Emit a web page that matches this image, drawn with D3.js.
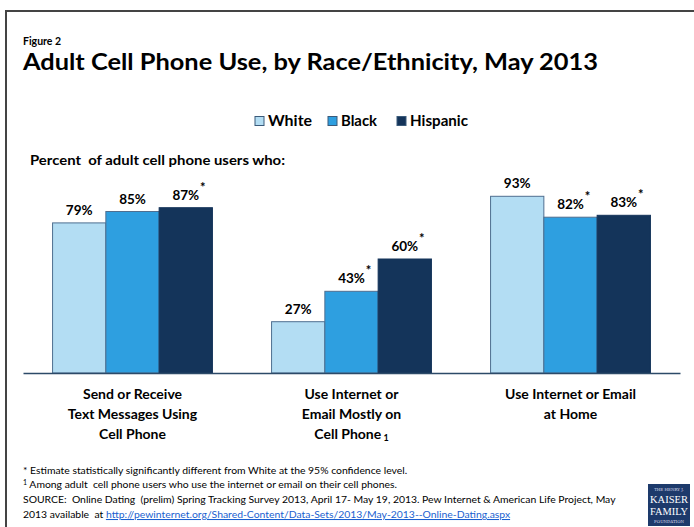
<!DOCTYPE html>
<html><head><meta charset="utf-8">
<script src="https://cdn.jsdelivr.net/npm/d3@7"></script>
<style>
body{margin:0;background:#fff;}
svg{display:block;font-family:Lato,"Open Sans",sans-serif;}
</style></head><body>
<svg id="c" width="694" height="527"></svg>
<script>
const categories = [
  ["Send or Receive","Text Messages Using","Cell Phone"],
  ["Use Internet or","Email Mostly on","Cell Phone"],
  ["Use Internet or Email","at Home"]
];
const seriesNames = ["White","Black","Hispanic"];
const white = [79, 27, 93];
const black = [85, 43, 82];
const hispanic = [87, 60, 83];
const blackSig = [false, true, true];
const hispanicSig = [true, true, true];
const colors = ["#b3ddf3","#2e9fe0","#14345a"];

const svg = d3.select("#c");
// frame
svg.append("path").attr("d","M6,527 L6,11 L700,11").attr("fill","none").attr("stroke","#444").attr("stroke-width",2);

svg.append("text").attr("x",23).attr("y",45).attr("font-size",10.5).attr("font-weight","bold").text("Figure 2");
svg.append("text").attr("x",23).attr("y",70).attr("font-size",23).attr("font-weight","bold").attr("fill","#000")
  .attr("textLength",575).attr("lengthAdjust","spacingAndGlyphs")
  .text("Adult Cell Phone Use, by Race/Ethnicity, May 2013");

// legend
const legX = [255, 328, 397];
const legW = [44, 36, 58];
seriesNames.forEach((n,i)=>{
  svg.append("rect").attr("x",legX[i]).attr("y",116.5).attr("width",9).attr("height",9)
    .attr("fill",colors[i]).attr("stroke","#3a5a7a").attr("stroke-width",1);
  svg.append("text").attr("x",legX[i]+13).attr("y",126).attr("font-size",15).attr("font-weight","bold")
    .attr("textLength",legW[i]).attr("lengthAdjust","spacingAndGlyphs").text(n);
});

svg.append("text").attr("x",30).attr("y",165).attr("font-size",13).attr("font-weight","bold")
  .attr("xml:space","preserve").attr("textLength",255).attr("lengthAdjust","spacingAndGlyphs")
  .text("Percent  of adult cell phone users who:");

const x0 = d3.scaleBand().domain(d3.range(categories.length)).range([23,680]).paddingInner(0.27).paddingOuter(0.135);
const x1 = d3.scaleBand().domain(seriesNames).range([0,x0.bandwidth()]);
const y = d3.scaleLinear().domain([0,100]).range([373,183]);

const data = [white, black, hispanic];
const sig = [[false,false,false], blackSig, hispanicSig];

const g = svg.append("g");
data.forEach((vals,si)=>{
  vals.forEach((v,ci)=>{
    const bx = x0(ci)+x1(seriesNames[si]);
    g.append("rect").attr("x",bx).attr("y",y(v)).attr("width",x1.bandwidth()).attr("height",y(0)-y(v))
      .attr("fill",colors[si]).attr("stroke", si===2 ? "#14345a" : "#4f6f90").attr("stroke-width",1);
    const cx = bx + x1.bandwidth()/2;
    g.append("text").attr("x",cx).attr("y",y(v)-8).attr("text-anchor","middle")
      .attr("font-size",13.5).attr("font-weight","bold").text(v+"%");
    if (sig[si][ci]) {
      g.append("text").attr("x",cx+17).attr("y",y(v)-16).attr("text-anchor","middle")
        .attr("font-size",13).attr("font-weight","bold").text("*");
    }
  });
});

// axis
const axis = d3.axisBottom(x0).tickSize(0).tickFormat("");
const ax = svg.append("g").attr("transform","translate(0,373)").call(axis);
ax.select(".domain").attr("stroke","#2c4a68").attr("stroke-width",1.5);

// category labels
categories.forEach((lines,ci)=>{
  const cx = x0(ci)+x0.bandwidth()/2;
  lines.forEach((l,li)=>{
    const t = svg.append("text").attr("x",cx).attr("y",399+li*20).attr("text-anchor","middle")
      .attr("font-size",14).attr("font-weight","bold").text(l);
    if (ci===1 && li===2) {
      t.append("tspan").attr("font-size",9).attr("dy",2).text(" 1");
    }
  });
});

// footnotes
const fn = svg.append("g").attr("font-size",10.4).attr("fill","#000");
fn.append("text").attr("x",23).attr("y",474).text("* Estimate statistically significantly different from White at the 95% confidence level.");
const f2 = fn.append("text").attr("x",23).attr("y",488);
f2.append("tspan").attr("font-size",7).attr("dy",-3).text("1");
f2.append("tspan").attr("dy",3).attr("xml:space","preserve").text(" Among adult  cell phone users who use the internet or email on their cell phones.");
fn.append("text").attr("x",23).attr("y",503).attr("xml:space","preserve")
  .text("SOURCE:  Online Dating  (prelim) Spring Tracking Survey 2013, April 17- May 19, 2013. Pew Internet & American Life Project, May");
const f4 = fn.append("text").attr("x",23).attr("y",518).attr("xml:space","preserve");
f4.append("tspan").text("2013 available  at ");
f4.append("tspan").attr("fill","#1a5fd0").attr("text-decoration","underline")
  .text("http://pewinternet.org/Shared-Content/Data-Sets/2013/May-2013--Online-Dating.aspx");

// logo
const lg = svg.append("g").attr("transform","translate(648,484)");
lg.append("rect").attr("width",42).attr("height",42).attr("fill","#1d3a6b");
lg.append("text").attr("x",21).attr("y",7).attr("text-anchor","middle").attr("font-size",4).attr("fill","#dde").attr("font-family","DejaVu Serif, serif").text("THE HENRY J.");
lg.append("text").attr("x",21).attr("y",19).attr("text-anchor","middle").attr("font-size",11).attr("fill","#fff").attr("font-family","Liberation Serif, serif").attr("textLength",38).attr("lengthAdjust","spacingAndGlyphs").text("KAISER");
lg.append("text").attr("x",21).attr("y",31).attr("text-anchor","middle").attr("font-size",11).attr("fill","#fff").attr("font-family","Liberation Serif, serif").attr("textLength",38).attr("lengthAdjust","spacingAndGlyphs").text("FAMILY");
lg.append("text").attr("x",21).attr("y",39).attr("text-anchor","middle").attr("font-size",4).attr("fill","#dde").attr("font-family","DejaVu Serif, serif").text("FOUNDATION");
</script>
</body></html>
